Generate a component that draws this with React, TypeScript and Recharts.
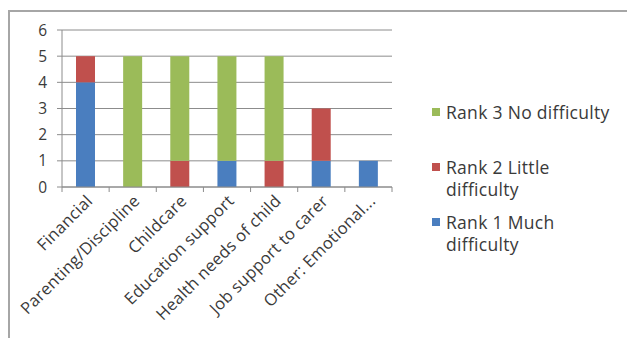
import { BarChart, Bar, XAxis, YAxis, CartesianGrid, Legend } from 'recharts'

const categories = [
    'Financial',
    'Parenting/Discipline',
    'Childcare',
    'Education support',
    'Health needs of child',
    'Job support to carer',
    'Other: Emotional...',
]
const rank1Much = [4, 0, 0, 1, 0, 1, 1]
const rank2Little = [1, 0, 1, 0, 1, 2, 0]
const rank3None = [0, 5, 4, 4, 4, 0, 0]
const yTicks = [0, 1, 2, 3, 4, 5, 6]

const seriesNames = ['Rank 1 Much difficulty', 'Rank 2 Little difficulty', 'Rank 3 No difficulty']
const COLORS = ['#4a7ebf', '#c0504d', '#9bbb59']

const W = 627
const H = 330
const M = { top: 22, right: 243, left: 0, bottom: 0 }
const Y_AXIS_W = 54
const X_AXIS_H = 151
const BAND = (W - M.left - Y_AXIS_W - M.right) / categories.length
const FONT = '"Open Sans", sans-serif'
const TEXT = '#3a3a3a'

const data = categories.map((name, i) => ({
    name,
    r1: rank1Much[i],
    r2: rank2Little[i],
    r3: rank3None[i],
}))

// ticks sit between categories like Excel, labels slanted
const XTick = ({ x, y, payload, index }: any) => (
    <g>
        <line x1={x - BAND / 2} x2={x - BAND / 2} y1={y} y2={y + 5} stroke="#8c8c8c" />
        {index === categories.length - 1 && (
            <line x1={x + BAND / 2} x2={x + BAND / 2} y1={y} y2={y + 5} stroke="#8c8c8c" />
        )}
        <text
            x={x + 8}
            y={y + 15}
            textAnchor="end"
            transform={`rotate(-45, ${x + 8}, ${y + 15})`}
            fontSize={16.5}
            letterSpacing={0.3}
            fontFamily={FONT}
            fill={TEXT}
        >
            {payload.value}
        </text>
    </g>
)

const LegendBox = () => {
    const items = [2, 1, 0]
    return (
        <div style={{ width: 200, fontFamily: FONT, fontSize: 17.5, letterSpacing: 0.3, color: TEXT, lineHeight: '22px' }}>
            {items.map(i => (
                <div key={i} style={{ height: 55, display: 'flex', alignItems: 'flex-start' }}>
                    <span style={{
                        display: 'inline-block', width: 8, height: 8, background: COLORS[i],
                        marginTop: 7, marginRight: 6, flexShrink: 0
                    }} />
                    <span style={{ width: 174 }}>{seriesNames[i]}</span>
                </div>
            ))}
        </div>
    )
}

export default function App() {
    return (
        <div style={{ position: 'relative', width: W, height: H }}>
            <div style={{
                position: 'absolute', left: 0, top: 2, width: 640, height: 340,
                borderTop: '2px solid #a6a6a6', borderLeft: '2px solid #a6a6a6'
            }} />
            <BarChart width={W} height={H} data={data} margin={M} barSize={19}>
                <CartesianGrid horizontal vertical={false} stroke="#8c8c8c" />
                <XAxis
                    dataKey="name"
                    interval={0}
                    tickLine={false}
                    tickSize={0}
                    tickMargin={0}
                    stroke="#8c8c8c"
                    tick={<XTick />}
                    height={X_AXIS_H}
                />
                <YAxis
                    width={Y_AXIS_W}
                    domain={[0, 6]}
                    ticks={yTicks}
                    tickSize={5}
                    tickMargin={10}
                    stroke="#8c8c8c"
                    tick={{ fontSize: 15.5, fontFamily: FONT, fill: TEXT }}
                />
                <Legend
                    layout="vertical"
                    align="center"
                    verticalAlign="middle"
                    content={<LegendBox />}
                    wrapperStyle={{ left: 424, top: 93, width: 200 }}
                />
                <Bar dataKey="r1" stackId="a" fill={COLORS[0]} isAnimationActive={false} />
                <Bar dataKey="r2" stackId="a" fill={COLORS[1]} isAnimationActive={false} />
                <Bar dataKey="r3" stackId="a" fill={COLORS[2]} isAnimationActive={false} />
            </BarChart>
        </div>
    )
}
